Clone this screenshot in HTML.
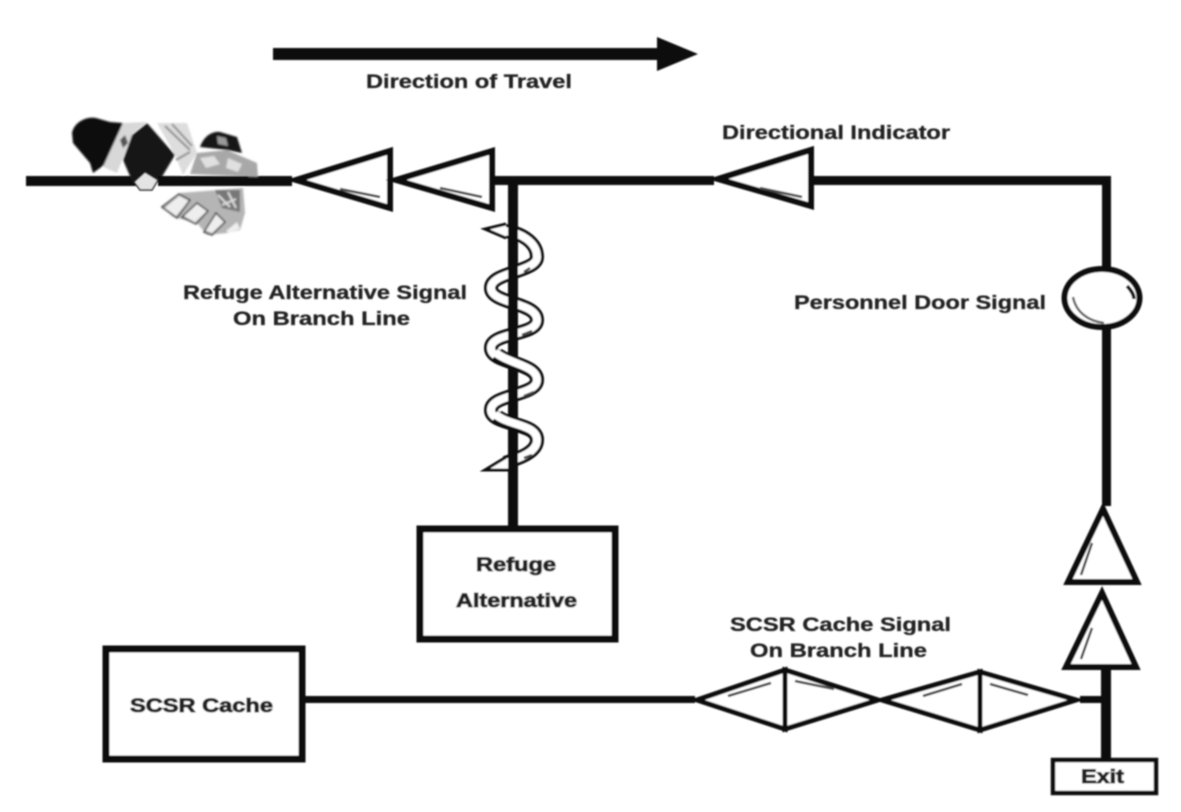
<!DOCTYPE html>
<html>
<head>
<meta charset="utf-8">
<style>
html,body{margin:0;padding:0;background:#fff;width:1181px;height:812px;overflow:hidden}
svg{display:block}
text{font-family:"Liberation Sans",sans-serif;font-weight:bold;font-size:19px;fill:#222;stroke:#222;stroke-width:.3;text-anchor:start}
text.s{stroke-width:.9}
</style>
</head>
<body>
<svg width="1181" height="812" viewBox="0 0 1181 812" xmlns="http://www.w3.org/2000/svg">
<defs>
<filter id="b" x="-2%" y="-2%" width="104%" height="104%"><feGaussianBlur stdDeviation="0.7"/></filter>
<filter id="g" x="-5%" y="-5%" width="110%" height="110%"><feGaussianBlur stdDeviation="0.8"/></filter>
</defs>
<rect width="1181" height="812" fill="#fff"/>
<g filter="url(#b)">
<!-- direction arrow -->
<rect x="273" y="48" width="390" height="12" fill="#111"/>
<polygon points="657,37 698,54 657,71" fill="#111"/>

<!-- helix behind the branch line -->
<g fill="none" stroke-linecap="butt">
<path d="M504,231 C520,232 537,242 537,257 C537,272 491,272 491,288 C491,304 537,302 537,320 C537,336 491,332 491,348 C491,364 537,362 537,380 C537,396 491,394 491,410 C491,426 537,422 537,440 C537,452 520,458 505,463" stroke="#111" stroke-width="14"/>
<path d="M503,231 C520,232 537,242 537,257 C537,272 491,272 491,288 C491,304 537,302 537,320 C537,336 491,332 491,348 C491,364 537,362 537,380 C537,396 491,394 491,410 C491,426 537,422 537,440 C537,452 520,458 504,463" stroke="#fff" stroke-width="8"/>
</g>
<path d="M506,224 L485,229 L506,238" fill="#fff" stroke="#111" stroke-width="3"/>
<path d="M508,456 L485,470 L510,470" fill="#fff" stroke="#111" stroke-width="3"/>

<!-- branch line -->
<rect x="508" y="180" width="10" height="350" fill="#111"/>

<!-- helix segments in front of the line -->
<g fill="none">
<path d="M497,354 C508,364 537,365 537,380" stroke="#111" stroke-width="14"/>
<path d="M495,352 C508,364 537,365 537,380" stroke="#fff" stroke-width="8"/>
<path d="M497,416 C508,426 537,424 537,440" stroke="#111" stroke-width="14"/>
<path d="M495,414 C508,426 537,424 537,440" stroke="#fff" stroke-width="8"/>
</g>
<g stroke="#444" stroke-width="2.5" fill="none">
<path d="M524,272 L530,268"/>
<path d="M522,335 L532,331"/>
<path d="M524,396 L534,392"/>
<path d="M524,458 L532,455"/>
</g>

<!-- main lines -->
<rect x="26" y="176" width="110" height="10" fill="#111"/>
<rect x="158" y="176" width="134" height="10" fill="#111"/>
<rect x="492" y="176" width="222" height="9" fill="#111"/>
<rect x="810" y="176" width="300" height="9" fill="#111"/>
<rect x="1102" y="176" width="9" height="92" fill="#111"/>
<rect x="1102" y="326" width="9" height="180" fill="#111"/>
<rect x="1101" y="666" width="10" height="96" fill="#111"/>
<rect x="1080" y="696" width="25" height="7" fill="#111"/>
<rect x="303" y="696" width="392" height="7" fill="#111"/>

<!-- figure -->
<g filter="url(#g)">
<path d="M72,133 C74,122 87,116 96,118 L110,122 L123,123 L107,163 L93,173 L90,163 L73,143Z" fill="#111"/>
<path d="M123,123 L147,122 L133,133 L117,173 L103,167Z" fill="#d8d8d8"/>
<path d="M120,140 l5,-5 l3,8 l-5,5Z" fill="#555"/>
<path d="M147,123 L175,155 L160,180 L133,183 L123,160 L132,135Z" fill="#151515"/>
<path d="M157,123 L187,123 L197,153 L183,175 L175,155Z" fill="#ddd"/>
<path d="M165,126 L190,150 M172,124 L192,146 M176,160 L190,152" stroke="#888" stroke-width="2"/>
<path d="M200,147 C204,136 212,131 220,132 L237,137 L242,153 L227,150Z" fill="#151515"/>
<path d="M217,136 l9,2 l2,8 l-10,-2Z" fill="#999"/>
<path d="M190,174 L197,153 L227,150 L257,163 L258,177Z" fill="#a8a8a8"/>
<path d="M200,158 l14,-2 l6,8 l-14,4Z M228,158 l14,6 l-4,8 l-12,-4Z" fill="#e0e0e0"/>
<path d="M162,207 L180,193 L243,188 L245,213 L240,230 L227,233 L207,235 L197,223 L173,217Z" fill="#b5b5b5"/>
<path d="M165,208 L179,196 L189,201 L176,216Z M184,216 L197,203 L207,211 L195,222Z M205,230 L216,214 L224,222 L212,233Z M226,231 L237,222 L240,229 L229,233Z" fill="#eee"/>
<path d="M162,207 L179,194 L190,200 L177,218Z M182,217 L197,203 L208,211 L196,224Z M204,232 L216,213 L225,222 L212,235Z" fill="none" stroke="#333" stroke-width="1.5"/>
<path d="M215,190 L240,190 L240,212 L222,208Z" fill="#777"/>
<path d="M218,195 l12,12 M228,192 l8,16 M222,205 l14,-6" stroke="#ddd" stroke-width="2"/>
</g>
<rect x="158" y="176" width="90" height="10" fill="#111"/>
<path d="M134,182 L145,172 L158,180 L152,190 L140,190Z" fill="#e4e4e4" stroke="#222" stroke-width="1.5"/>

<!-- direction triangles -->
<g fill="#fff" stroke="#111" stroke-width="6" stroke-linejoin="miter">
<polygon points="296,180 390,151 390,208"/>
<polygon points="396,180 492,151 492,208"/>
<polygon points="718,179 811,150 811,206"/>
<polygon points="1103,509 1137,582 1068,582"/>
<polygon points="1102,593 1136,667 1066,667"/>
</g>
<g fill="#fff" stroke="#111" stroke-width="5" stroke-linejoin="miter">
<polygon points="697,700 785,670 785,729"/>
<polygon points="785,670 878,700 785,729"/>
<polygon points="882,700 980,672 980,730"/>
<polygon points="980,672 1076,700 980,730"/>
</g>
<g stroke="#444" stroke-width="2.5" fill="none">
<path d="M340,189 L380,197"/>
<path d="M440,188 L482,197"/>
<path d="M760,188 L802,197"/>
<path d="M1092,543 L1081,575"/>
<path d="M1092,628 L1081,659"/>
<path d="M728,696 L771,683"/>
<path d="M795,681 L834,689"/>
<path d="M923,696 L962,684"/>
<path d="M990,684 L1028,695"/>
</g>

<!-- circle -->
<ellipse cx="1102" cy="298" rx="37.5" ry="29" fill="#fff" stroke="#111" stroke-width="6"/>
<path d="M1073,297 C1076,312 1088,321 1104,323" fill="none" stroke="#666" stroke-width="2.5"/>
<path d="M1127,286 C1132,291 1134,296 1134,299" fill="none" stroke="#111" stroke-width="3.5"/>

<!-- boxes -->
<rect x="420" y="529" width="195" height="110" fill="#fff" stroke="#111" stroke-width="7"/>
<rect x="106" y="649" width="196" height="110" fill="#fff" stroke="#111" stroke-width="7"/>
<rect x="1053" y="760" width="103" height="33" fill="#fff" stroke="#111" stroke-width="4.5"/>

<!-- labels -->
<text x="366" y="88" textLength="206" lengthAdjust="spacingAndGlyphs">Direction of Travel</text>
<text x="722" y="139" textLength="228" lengthAdjust="spacingAndGlyphs">Directional Indicator</text>
<text x="183" y="299" textLength="284" lengthAdjust="spacingAndGlyphs">Refuge Alternative Signal</text>
<text x="233" y="325" textLength="177" lengthAdjust="spacingAndGlyphs">On Branch Line</text>
<text x="794" y="309" textLength="252" lengthAdjust="spacingAndGlyphs">Personnel Door Signal</text>
<text class="s" x="476" y="571" textLength="80" lengthAdjust="spacingAndGlyphs">Refuge</text>
<text class="s" x="456" y="607" textLength="121" lengthAdjust="spacingAndGlyphs">Alternative</text>
<text class="s" x="130" y="712" textLength="143" lengthAdjust="spacingAndGlyphs">SCSR Cache</text>
<text x="730" y="631" textLength="221" lengthAdjust="spacingAndGlyphs">SCSR Cache Signal</text>
<text x="750" y="657" textLength="177" lengthAdjust="spacingAndGlyphs">On Branch Line</text>
<text class="s" x="1081" y="783" textLength="43" lengthAdjust="spacingAndGlyphs">Exit</text>
</g>
</svg>
</body>
</html>
